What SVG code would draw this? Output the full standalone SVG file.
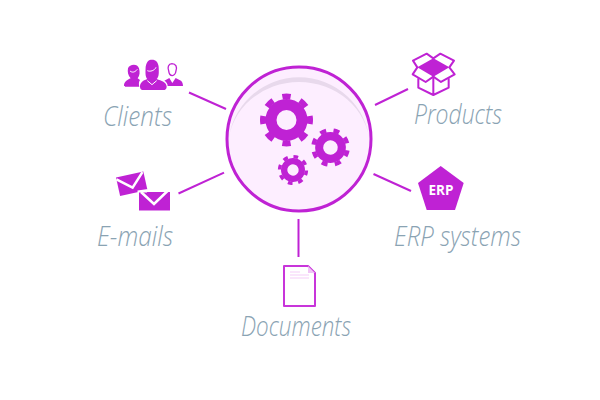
<svg xmlns="http://www.w3.org/2000/svg" width="600" height="400" viewBox="0 0 600 400">
  <style>
    .label { font-family: "Open Sans", "Liberation Sans", sans-serif; font-style: italic; font-weight: 300; font-size: 27px; fill: #8aa3b3; }
    .link { stroke: #bf22d4; stroke-width: 2; fill: none; }
    .solid { fill: #bf22d4; }
    .outline { fill: none; stroke: #bf22d4; stroke-width: 6; stroke-linejoin: round; }
    .cut { fill: none; stroke: #fff; stroke-linejoin: miter; }
  </style>
  <defs>
    <!-- Eight-toothed cog, radius 26.5 around the origin -->
    <g id="cog" fill="none" stroke="#bf22d4">
      <circle r="15.5" stroke-width="11"/>
      <circle r="23.5" stroke-width="6" pathLength="80" stroke-dasharray="4.6 5.4" stroke-dashoffset="2.3"/>
    </g>
  </defs>

  <g id="connectors">
    <path class="link" d="M189 92.5 226 109"/>
    <path class="link" d="M178.5 193.5 224 172.7"/>
    <path class="link" d="M375 105 408 89"/>
    <path class="link" d="M373.5 174 411 191"/>
    <path class="link" d="M298.5 219V257"/>
  </g>

  <g id="hub">
    <circle cx="299" cy="139" r="72" fill="#fdeeff"/>
    <path d="M228.2 143A71 71 0 0 1 369.8 143A71 66 0 0 0 228.2 143Z" fill="#e8d9ec"/>
    <circle cx="299" cy="139" r="72" fill="none" stroke="#bf22d4" stroke-width="3"/>
    <use href="#cog" transform="translate(286.5 120)"/>
    <use href="#cog" transform="translate(330.5 147.5) rotate(20) scale(.73)"/>
    <use href="#cog" transform="translate(293 170) rotate(12) scale(.57)"/>
  </g>

  <g id="clients">
    <g transform="translate(90 50) scale(.3333)">
      <path class="solid" d="M102 108C102 94 112 90 122 85C114 76 112 66 114 55C118 43 142 39 147 55C150 66 150 76 143 85L150 90C146 96 146 102 148 110H108C104 110 102 110 102 108Z"/>
      <path class="solid" d="M150 110C150 98 158 92 172 87C166 80 166 70 167 50C170 34 176 29 186 29C198 29 204 36 206 50C207 70 207 80 200 87C214 92 230 97 230 110C230 117 226 120 220 120H160C154 120 150 117 150 110Z"/>
      <path class="outline" style="stroke-width:4" d="M236 62C232 52 235 42 246 41C258 41 262 52 258 62C257 72 251 77 247 77C242 77 237 72 236 62Z"/>
      <path class="solid" d="M223 92L238 84 247 99 257 84 273 92C277 95 279 101 279 108H233C233 102 230 96 223 92Z"/>
      <path class="cut" stroke-width="3" d="M120 63C126 68 134 68 142 58M172 62C180 66 194 62 198 52M172 92L186 104 200 92"/>
    </g>
    <text class="label" x="103" y="126" textLength="69" lengthAdjust="spacingAndGlyphs">Clients</text>
  </g>

  <g id="emails">
    <g transform="rotate(-12.5 116 177.5)">
      <rect class="solid" x="116" y="177.5" width="28" height="19"/>
      <path class="cut" stroke-width="2.5" d="M116 179.5 130 191 143 178"/>
    </g>
    <path d="M139 192H170V210.500H139Z" fill="#bf22d4" stroke="#fff" stroke-width="0"/>
    <path d="M137.500 190.500 148 189 147 192.500 137.500 192.500Z" fill="#fff"/>
    <path class="cut" stroke-width="2.500" d="M141 192 154 204 168 190.500"/>
    <text class="label" x="97" y="246" textLength="76" lengthAdjust="spacingAndGlyphs">E-mails</text>
  </g>

  <g id="products">
    <g transform="translate(400 45) scale(.3333)">
      <path class="solid" d="M52 67 100 40 148 67 100 95Z"/>
      <path class="outline" d="M52 67 39 47 80 26 100 40 121 26 162 47 148 67 164 88 123 111 100 95 77 111 38 88Z"/>
      <path class="outline" d="M55 100V128L100 150 146 128V100M100 95V150"/>
    </g>
    <text class="label" x="414" y="124" textLength="88" lengthAdjust="spacingAndGlyphs">Products</text>
  </g>

  <g id="erp">
    <path class="solid" d="M440.700 166 463.700 183 455 210H426.700L418 183Z"/>
    <text x="441" y="195" text-anchor="middle" font-family="'Open Sans', 'Liberation Sans', sans-serif" font-weight="700" font-size="13.500" fill="#fff">ERP</text>
    <text class="label" x="394" y="246" textLength="127" lengthAdjust="spacingAndGlyphs">ERP systems</text>
  </g>

  <g id="documents">
    <path d="M284 266H308L315 273V306H284Z" fill="#fff" stroke="#c835da" stroke-width="2" stroke-linejoin="round"/>
    <path d="M308 266V273H315Z" fill="#f0c4f5"/>
    <path d="M290 272H300M290 275H309M290 278H309" stroke="#f5cdf8" stroke-width="1" fill="none"/>
    <text class="label" x="241" y="336" textLength="110" lengthAdjust="spacingAndGlyphs">Documents</text>
  </g>
</svg>
